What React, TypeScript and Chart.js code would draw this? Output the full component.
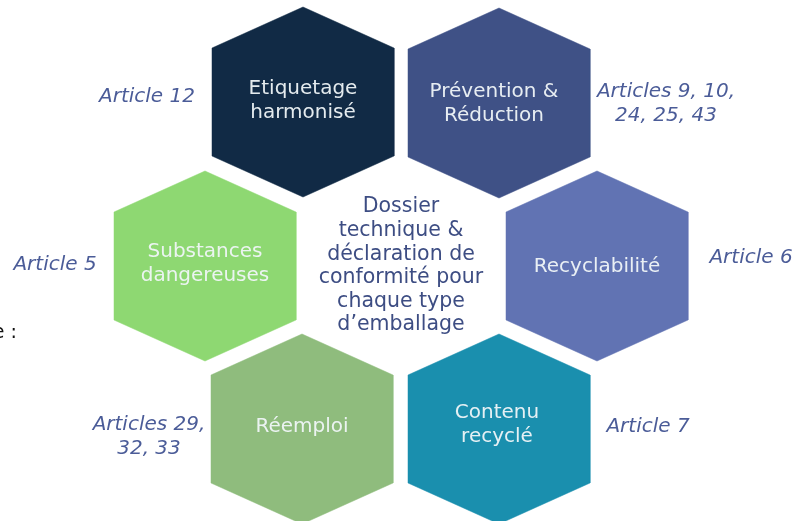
import React, { useEffect, useRef } from "react";
import { Chart, registerables } from "chart.js";

Chart.register(...registerables);

// Hexagon categories
const hexLabels: string[][] = [
  ["Etiquetage", "harmonisé"],
  ["Prévention &", "Réduction"],
  ["Substances", "dangereuses"],
  ["Recyclabilité"],
  ["Réemploi"],
  ["Contenu", "recyclé"],
];
const hexX = [303, 499, 205, 597, 302, 499];
const hexY = [102, 103, 266, 266, 429, 429];
const hexTextX = [303, 494, 205, 597, 302, 497];
const hexTextY = [101, 104, 264, 267, 427, 425];
const hexColors = ["#112a45", "#3f5186", "#8ed872", "#6173b3", "#8fbc7d", "#1a8fae"];

// Article references
const articleLines: string[][] = [
  ["Article 12"],
  ["Articles 9, 10,", "24, 25, 43"],
  ["Article 5"],
  ["Article 6"],
  ["Articles 29,", "32, 33"],
  ["Article 7"],
];
const articleX = [147, 666, 55, 751, 149, 648];
const articleY = [97, 104, 265, 258, 437, 427];

// Central text
const centerLines = ["Dossier", "technique &", "déclaration de", "conformité pour", "chaque type", "d’emballage"];
const centerX = 401;
const centerY = 266;

// Stray cut-off text at the left edge
const edgeText = "e :";
const edgeX = 17;
const edgeY = 333;

const HALF_W = 91;
const HALF_H = 95;
const SHOULDER = 54;

const FONT = "'DejaVu Sans', sans-serif";

function hexPoints(cx: number, cy: number) {
  return [
    { x: cx, y: cy - HALF_H },
    { x: cx + HALF_W, y: cy - SHOULDER },
    { x: cx + HALF_W, y: cy + SHOULDER },
    { x: cx, y: cy + HALF_H },
    { x: cx - HALF_W, y: cy + SHOULDER },
    { x: cx - HALF_W, y: cy - SHOULDER },
    { x: cx, y: cy - HALF_H },
  ];
}

const textPlugin = {
  id: "hexText",
  afterDatasetsDraw(chart: any) {
    const ctx = chart.ctx as CanvasRenderingContext2D;
    const xs = chart.scales.x;
    const ys = chart.scales.y;
    const drawLines = (lines: string[], x: number, y: number, lh: number, font: string, color: string, align: CanvasTextAlign = "center") => {
      ctx.save();
      ctx.font = font;
      ctx.fillStyle = color;
      ctx.textAlign = align;
      ctx.textBaseline = "middle";
      const px = xs.getPixelForValue(x);
      const py = ys.getPixelForValue(y);
      const start = py - ((lines.length - 1) * lh) / 2;
      lines.forEach((l, i) => ctx.fillText(l, px, start + i * lh));
      ctx.restore();
    };
    hexLabels.forEach((lines, i) =>
      drawLines(lines, hexTextX[i], hexTextY[i], 24, `20px ${FONT}`, "rgba(240,245,248,0.95)")
    );
    articleLines.forEach((lines, i) =>
      drawLines(lines, articleX[i], articleY[i], 24, `italic 20px ${FONT}`, "#4b5c98")
    );
    drawLines(centerLines, centerX, centerY, 23.6, `20.5px ${FONT}`, "#3d4d83");
    drawLines([edgeText], edgeX, edgeY, 24, `19px ${FONT}`, "#111111", "right");
  },
};

export default function App() {
  const ref = useRef<HTMLCanvasElement | null>(null);
  useEffect(() => {
    document.body.style.margin = "0";
    const canvas = ref.current;
    if (!canvas) return;
    const chart = new Chart(canvas, {
      type: "scatter",
      data: {
        datasets: hexX.map((cx, i) => ({
          label: hexLabels[i].join(" "),
          data: hexPoints(cx, hexY[i]),
          showLine: true,
          fill: "shape",
          backgroundColor: hexColors[i],
          borderColor: hexColors[i],
          borderWidth: 0.5,
          pointRadius: 0,
          tension: 0,
        })),
      },
      options: {
        responsive: false,
        animation: false,
        events: [],
        layout: { padding: 0 },
        plugins: { legend: { display: false }, tooltip: { enabled: false } },
        scales: {
          x: { type: "linear", min: 0, max: 809, display: false },
          y: { type: "linear", min: 0, max: 521, reverse: true, display: false },
        },
      },
      plugins: [textPlugin],
    } as any);
    return () => chart.destroy();
  }, []);
  return (
    <div style={{ width: 809, height: 521, background: "#ffffff" }}>
      <canvas ref={ref} width={809} height={521} style={{ display: "block" }} />
    </div>
  );
}
